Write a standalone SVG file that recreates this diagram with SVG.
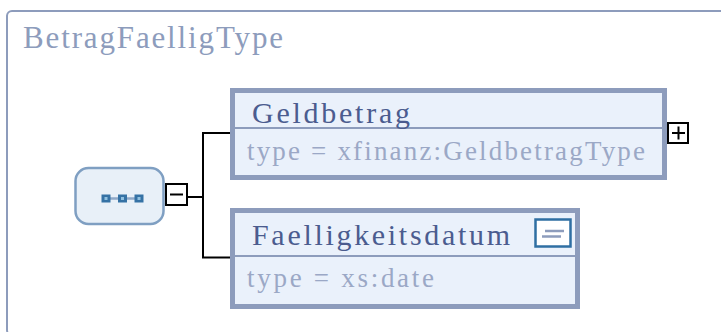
<svg xmlns="http://www.w3.org/2000/svg" width="721" height="332" viewBox="0 0 721 332">
  <style>
    .frame { fill: #ffffff; stroke: #8d9cbc; stroke-width: 2; }
    .frameTitle { font-family: "Liberation Serif", "Times New Roman", serif; font-size: 31px; fill: #8d9cbc; }
    .elem { fill: #eaf1fb; stroke: #8d9cbc; stroke-width: 5; }
    .divider { stroke: #8d9cbc; stroke-width: 2; }
    .name { font-family: "Liberation Serif", "Times New Roman", serif; font-size: 30px; fill: #4b5c8f; }
    .type { font-family: "Liberation Serif", "Times New Roman", serif; font-size: 27px; fill: #9ba8c6; }
    .conn { fill: none; stroke: #000000; stroke-width: 2; }
    .toggle { fill: #ffffff; stroke: #000000; stroke-width: 2; }
    .seq { fill: #e8f0f8; stroke: #7f9fc2; stroke-width: 2.5; }
    .sq { fill: #3572a5; }
    .sqc { fill: #8fc0e0; }
    .dash { stroke: #8ea8c8; stroke-width: 2.5; }
  </style>

  <g id="frame">
    <rect class="frame" x="7" y="11" width="730" height="324" rx="5"/>
    <text class="frameTitle" x="23" y="48" textLength="260" lengthAdjust="spacing">BetragFaelligType</text>
  </g>

  <g id="connectors">
    <path class="conn" d="M188 197 H203 M203 133 V257.5 M202 133 H231 M202 257.5 H231"/>
  </g>

  <g id="sequence">
    <rect class="seq" x="75.5" y="168" width="88" height="56" rx="13"/>
    <line class="dash" x1="106" y1="198.5" x2="139" y2="198.5"/>
    <rect class="sq" x="101.5" y="194.5" width="9" height="8"/>
    <rect class="sqc" x="104.5" y="197" width="3" height="3"/>
    <rect class="sq" x="118" y="194.5" width="9" height="8"/>
    <rect class="sqc" x="121" y="197" width="3" height="3"/>
    <rect class="sq" x="134.5" y="194.5" width="9" height="8"/>
    <rect class="sqc" x="137.5" y="197" width="3" height="3"/>
    <rect class="toggle" x="166" y="184" width="21" height="21"/>
    <line x1="170" y1="194.5" x2="183" y2="194.5" stroke="#000" stroke-width="2"/>
  </g>

  <g id="Geldbetrag">
    <rect class="elem" x="232.5" y="90.5" width="432" height="87"/>
    <line class="divider" x1="235" y1="128" x2="662" y2="128"/>
    <text class="name" x="252" y="123" textLength="158" lengthAdjust="spacing">Geldbetrag</text>
    <text class="type" x="247" y="160" textLength="398" lengthAdjust="spacing">type = xfinanz:GeldbetragType</text>
    <rect class="toggle" x="668" y="123" width="20" height="20"/>
    <line x1="672" y1="133" x2="685" y2="133" stroke="#000" stroke-width="2"/>
    <line x1="678.5" y1="126.5" x2="678.5" y2="139.5" stroke="#000" stroke-width="2"/>
  </g>

  <g id="Faelligkeitsdatum">
    <rect class="elem" x="232.5" y="210.5" width="345" height="96"/>
    <line class="divider" x1="235" y1="256" x2="575" y2="256"/>
    <text class="name" x="252" y="245" textLength="258" lengthAdjust="spacing">Faelligkeitsdatum</text>
    <text class="type" x="247" y="287" textLength="187" lengthAdjust="spacing">type = xs:date</text>
    <rect x="535.5" y="219.5" width="35" height="27" fill="#ffffff" stroke="#2f6fa3" stroke-width="2.5"/>
    <line x1="545" y1="231" x2="564" y2="231" stroke="#8d9cbc" stroke-width="2.5"/>
    <line x1="542" y1="236.5" x2="561" y2="236.5" stroke="#8d9cbc" stroke-width="2.5"/>
  </g>
</svg>
